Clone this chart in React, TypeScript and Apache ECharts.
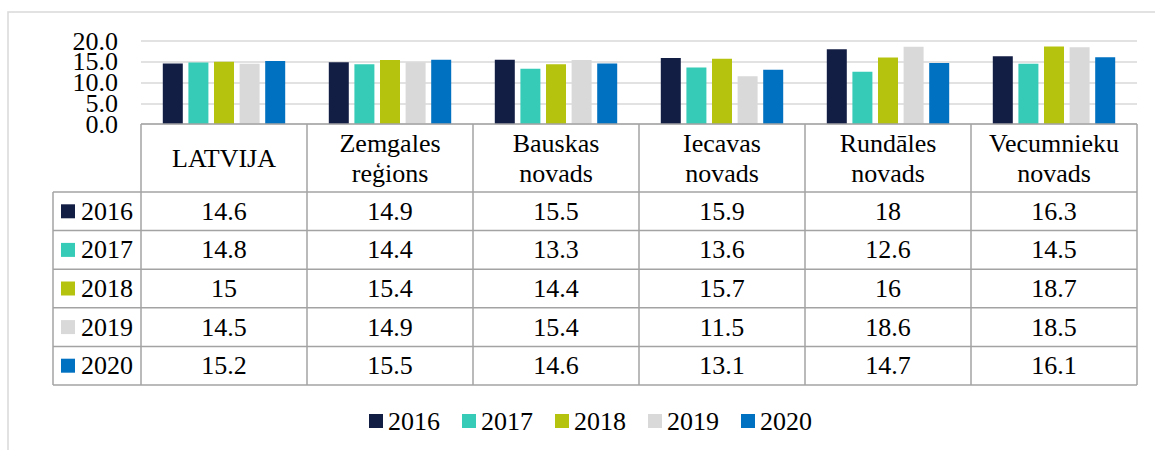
import React, { useEffect, useRef } from "react";
import * as echarts from "echarts";

const categories = ["LATVIJA", "Zemgales\nreģions", "Bauskas\nnovads", "Iecavas\nnovads", "Rundāles\nnovads", "Vecumnieku\nnovads"];
const years = ["2016", "2017", "2018", "2019", "2020"];
const v2016 = [14.6, 14.9, 15.5, 15.9, 18, 16.3];
const v2017 = [14.8, 14.4, 13.3, 13.6, 12.6, 14.5];
const v2018 = [15, 15.4, 14.4, 15.7, 16, 18.7];
const v2019 = [14.5, 14.9, 15.4, 11.5, 18.6, 18.5];
const v2020 = [15.2, 15.5, 14.6, 13.1, 14.7, 16.1];
const seriesValues = [v2016, v2017, v2018, v2019, v2020];
const yTicks = [0, 5, 10, 15, 20];
const colors = ["#131E45", "#36CBB6", "#B5C30F", "#D9D9D9", "#0070C0"];

const FONT = "'Times New Roman', 'Liberation Serif', 'DejaVu Serif', serif";
const FS = 26;
const LINE = "#A3A3A3";

export default function App() {
  const ref = useRef<HTMLDivElement>(null);
  useEffect(() => {
    const chart = echarts.init(ref.current!, null, { renderer: "svg" });
    const gridTop = 41;
    const gridBottomY = 124;
    chart.setOption({
      animation: false,
      textStyle: { fontFamily: FONT },
      color: colors,
      grid: { left: 141, right: 18, top: gridTop, height: gridBottomY - gridTop, containLabel: false },
      legend: {
        data: years,
        left: 369,
        top: 408,
        padding: 0,
        icon: "rect",
        itemWidth: 14,
        itemHeight: 14,
        itemGap: 22,
        textStyle: { fontFamily: FONT, fontSize: FS, color: "#000" },
      },
      xAxis: {
        type: "category",
        data: categories,
        axisLine: { show: false },
        axisTick: { show: false },
        axisLabel: {
          interval: 0,
          margin: 34,
          verticalAlign: "middle",
          lineHeight: 30,
          fontFamily: FONT,
          fontSize: FS,
          color: "#000",
        },
      },
      yAxis: {
        type: "value",
        min: yTicks[0],
        max: yTicks[yTicks.length - 1],
        interval: yTicks[1] - yTicks[0],
        axisLine: { show: false },
        axisTick: { show: false },
        splitLine: { lineStyle: { color: "#D9D9D9", width: 1.5 } },
        axisLabel: { show: false },
      },
      series: years.map((y, i) => ({
        name: y,
        type: "bar",
        data: seriesValues[i],
        barWidth: 20,
        barGap: "28%",
        itemStyle: { color: colors[i] },
      })),
    });

    const elements: any[] = [];
    const xs = categories.map((_, i) => chart.convertToPixel({ xAxisIndex: 0 }, i) as number);
    const step = xs[1] - xs[0];
    const tableLeft = xs[0] - step / 2;
    const tableRight = xs[xs.length - 1] + step / 2;
    // y-axis tick labels placed through the value axis scale
    yTicks.forEach((t) => {
      const ty = chart.convertToPixel({ yAxisIndex: 0 }, t) as number;
      elements.push({
        type: "text",
        z: 10,
        x: tableLeft - 23,
        y: ty,
        style: {
          text: t.toFixed(1),
          fontFamily: FONT,
          fontSize: FS,
          lineHeight: 19,
          fill: "#000",
          align: "right",
          verticalAlign: "middle",
        },
      });
    });

    // Data table built from the category axis positions
    const zeroY = chart.convertToPixel({ yAxisIndex: 0 }, 0) as number;
    const headerBottom = zeroY + 68;
    const rowH = 38.6;
    const labelLeft = 53;
    const tableBottom = headerBottom + rowH * years.length;
    const ln = (x1: number, y1: number, x2: number, y2: number) =>
      elements.push({ type: "line", z: 10, shape: { x1, y1, x2, y2 }, style: { stroke: LINE, lineWidth: 1.5 } });

    ln(tableLeft, zeroY, tableRight, zeroY);
    for (let r = 0; r <= years.length; r++) {
      const y = headerBottom + r * rowH;
      ln(labelLeft, y, tableRight, y);
    }
    ln(labelLeft, headerBottom, labelLeft, tableBottom);
    for (let c = 0; c <= categories.length; c++) {
      const x = tableLeft + c * step;
      ln(x, zeroY, x, tableBottom);
    }
    years.forEach((yr, r) => {
      const cy = headerBottom + (r + 0.5) * rowH;
      elements.push({ type: "rect", z: 10, shape: { x: 61, y: cy - 7, width: 14, height: 14 }, style: { fill: colors[r] } });
      elements.push({
        type: "text",
        z: 10,
        x: 81,
        y: cy,
        style: { text: yr, fontFamily: FONT, fontSize: FS, fill: "#000", align: "left", verticalAlign: "middle" },
      });
      seriesValues[r].forEach((v, c) => {
        elements.push({
          type: "text",
          z: 10,
          x: xs[c],
          y: cy,
          style: { text: String(v), fontFamily: FONT, fontSize: FS, fill: "#000", align: "center", verticalAlign: "middle" },
        });
      });
    });
    // outer chart-area border
    elements.push({ type: "rect", z: 0, shape: { x: 8, y: 12, width: 1300, height: 600 }, style: { fill: "none", stroke: "#D9D9D9", lineWidth: 1.5 } });

    chart.setOption({ graphic: { elements } });
    return () => chart.dispose();
  }, []);
  return <div ref={ref} style={{ position: "fixed", left: 0, top: 0, width: 1155, height: 450, background: "#fff" }} />;
}
